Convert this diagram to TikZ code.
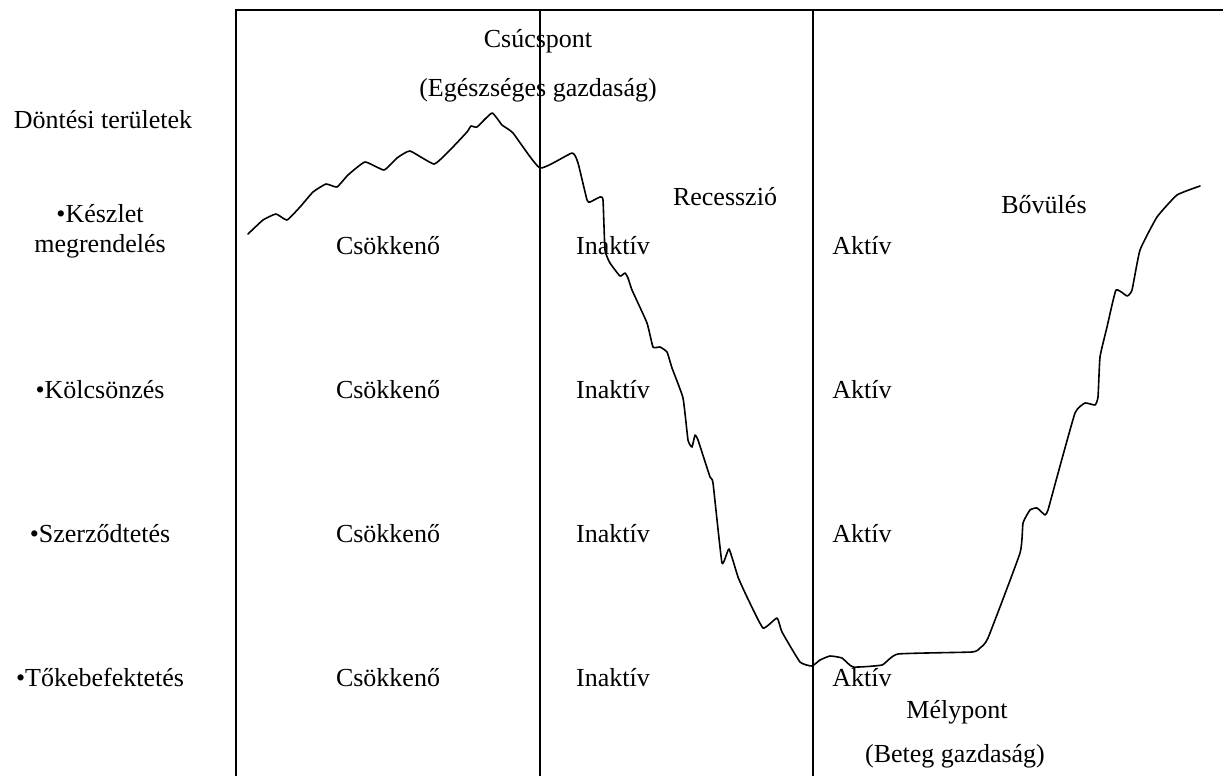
\documentclass[tikz,border=0pt]{standalone}
\usepackage{fontspec}
\setmainfont{Liberation Serif}
\begin{document}
\begin{tikzpicture}[x=1pt,y=-1pt,
  lbl/.style={anchor=base,inner sep=0pt,font=\fontsize{26}{30}\selectfont},
  frameline/.style={line width=1.5pt},
  cycle/.style={line width=1.6pt,line join=round,line cap=round}]
\useasboundingbox (0,0) rectangle (1223,776);
% frame
\draw[frameline] (236,776) -- (236,10) -- (1223,10);
\draw[frameline] (540,10) -- (540,776);
\draw[frameline] (813,10) -- (813,776);
% headings
\node[lbl] (csucs) at (538,48) {Csúcspont};
\node[lbl] (egesz) at (538,96) {(Egészséges gazdaság)};
\node[lbl] (dontesi) at (103,128) {Döntési területek};
\node[lbl] (recess) at (725,205) {Recesszió};
\node[lbl] (bovul) at (1044,213) {Bővülés};
\node[lbl] (mely) at (957,718) {Mélypont};
\node[lbl] (beteg) at (955,762) {(Beteg gazdaság)};
% row labels
\node[lbl] (keszlet) at (100,222) {•Készlet};
\node[lbl] (megrend) at (100,252) {megrendelés};
\node[lbl] (kolcson) at (100,398) {•Kölcsönzés};
\node[lbl] (szerzod) at (100,542) {•Szerződtetés};
\node[lbl] (toke) at (100,686) {•Tőkebefektetés};
% cells
\foreach \y/\n in {254/a,398/b,542/c,686/d}{
  \node[lbl] (cs\n) at (388,\y) {Csökkenő};
  \node[lbl] (in\n) at (613,\y) {Inaktív};
  \node[lbl] (ak\n) at (862,\y) {Aktív};
}
% business cycle curve
\draw[cycle] plot[smooth,tension=0.25] coordinates {
 (248,234) (263,220) (276,214) (287,220) (300,207) (313,192) (326,184)
 (337,187) (348,175) (365,162) (384,170) (397,158) (410,151) (434,164)
 (450,150) (467,132) (471,126) (477,127) (492,113) (502,125) (513,133)
 (540,168) (572,153) (578,163) (587,200) (590,202) (600,197) (603,200)
 (605,250) (610,263) (620,276) (625,273) (628,278) (632,290) (647,323)
 (653,347) (660,347) (667,352) (672,368) (683,398) (688,440) (692,447)
 (695,435) (698,440) (710,477) (713,483) (722,563) (729,549) (738,577)
 (747,597) (763,628) (777,618) (782,632) (800,662) (812,666) (820,660)
 (830,656) (842,658) (853,667) (882,665) (898,654) (972,652) (980,648)
 (988,638) (1020,553) (1023,523) (1030,510) (1037,508) (1045,515)
 (1048,510) (1057,477) (1075,413) (1085,403) (1095,405) (1098,397)
 (1100,357) (1107,327) (1116,290) (1127,296) (1132,290) (1140,250)
 (1157,217) (1177,195) (1200,186)};
\end{tikzpicture}
\end{document}
